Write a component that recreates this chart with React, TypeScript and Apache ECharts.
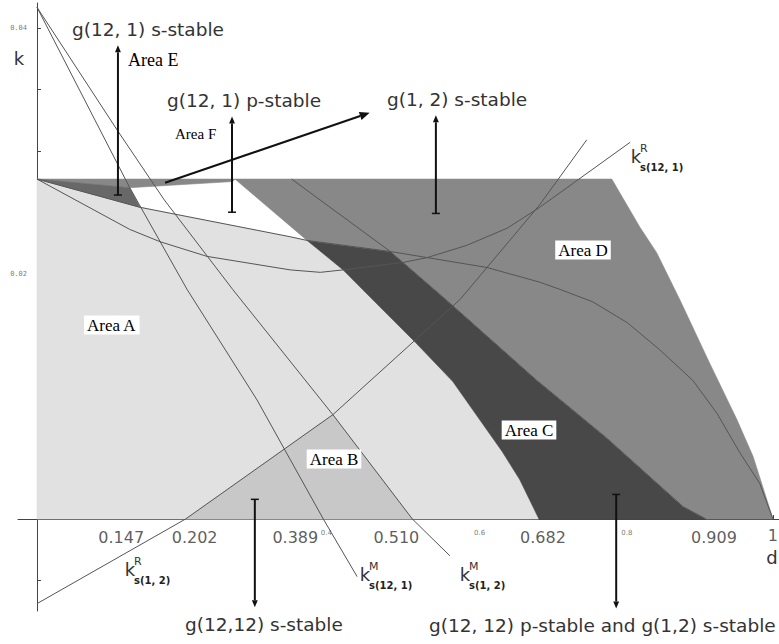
import React, { useEffect, useRef } from "react";
import * as echarts from "echarts";

// ---------- data (d on x, k on y) ----------
const topK = 0.0277;

// g(12,12) p-stable boundary
const curvePD = [0, 0.14, 0.344, 0.367, 0.48, 0.611, 0.683, 0.711, 0.755, 0.802, 0.846, 0.891, 0.924, 0.955, 0.982, 1.0];
const curvePK = [0.0277, 0.0254, 0.023, 0.0227, 0.0218, 0.0205, 0.0193, 0.0187, 0.0177, 0.016, 0.0138, 0.0113, 0.0086, 0.0054, 0.0029, 0];

// boundary between Area A and Area C
const curveQD = [0.269, 0.367, 0.416, 0.459, 0.514, 0.565, 0.592, 0.632, 0.656, 0.682];
const curveQK = [0.0277, 0.0227, 0.0203, 0.0177, 0.0144, 0.0112, 0.0089, 0.0055, 0.0032, 0];

// boundary between Area C and Area D
const curveLD = [0.346, 0.48, 0.557, 0.679, 0.774, 0.878, 0.909];
const curveLK = [0.0277, 0.0218, 0.0178, 0.0113, 0.0066, 0.001, 0];

// lower edge of the strip under the top line
const stripD = [0, 0.126, 0.266, 0.269];
const stripK = [0.0277, 0.027, 0.0275, 0.0277];

// right edge of Area D
const edgeD = [0.781, 0.819, 0.842, 0.874, 0.914, 0.951, 0.973, 1.0];
const edgeK = [0.0277, 0.0238, 0.0217, 0.0178, 0.0127, 0.0081, 0.0051, 0];

// k^M s(12,1)
const kM121D = [0, 0.126, 0.204, 0.299, 0.389, 0.435];
const kM121K = [0.0417, 0.027, 0.0187, 0.0097, 0, -0.0047];
// k^M s(1,2)
const kM12D = [0, 0.11, 0.173, 0.266, 0.402, 0.51, 0.561];
const kM12K = [0.0417, 0.0316, 0.026, 0.0187, 0.0085, 0, -0.003];
// k^R s(1,2)
const kR12D = [0, 0.202, 0.402, 0.575, 0.683, 0.747];
const kR12K = [-0.0069, 0, 0.0085, 0.0179, 0.0256, 0.0309];
// k^R s(12,1)
const kR121D = [0, 0.126, 0.167, 0.231, 0.344, 0.385, 0.416, 0.497, 0.53, 0.584, 0.639, 0.683, 0.806];
const kR121K = [0.0277, 0.0236, 0.0226, 0.0214, 0.0203, 0.0201, 0.0203, 0.0209, 0.0213, 0.0223, 0.0237, 0.0254, 0.0307];

// axis ticks and labels
const xTickValues = [0.05, 0.1, 0.15, 0.2, 0.25, 0.3, 0.35, 0.4, 0.45, 0.5, 0.55, 0.6, 0.65, 0.7, 0.75, 0.8, 0.85, 0.9, 0.95, 1.0];
const xSmallLabelValues = [0.4, 0.6, 0.8];
const yTickValues = [-0.005, 0, 0.005, 0.01, 0.015, 0.02, 0.025, 0.03, 0.035, 0.04];
const yLabelValues = [0.02, 0.04];
const markedD = [0.147, 0.202, 0.389, 0.51, 0.682, 0.909, 1];
const markedDLabels = ["0.147", "0.202", "0.389", "0.510", "0.682", "0.909", "1"];

// arrows (data coordinates)
const arrowFromD = [0.11, 0.265, 0.174, 0.542, 0.296, 0.787];
const arrowFromK = [0.0264, 0.025, 0.0274, 0.0249, 0.0016, 0.002];
const arrowToD = [0.11, 0.265, 0.452, 0.542, 0.296, 0.787];
const arrowToK = [0.0386, 0.0328, 0.0331, 0.0329, -0.0072, -0.0073];

// ---------- layout / style ----------
const markedLabelDx = [-24, 9, -28, -16, 4, 8, 0];
const markedLabelDy = [19, 19, 19, 19, 19, 19, 17];
const smallLabelDx = [-5, 1, 1];
const arrowHead = [7, 7, 10, 7, 7, 7];
const arrowCap = [true, true, false, true, true, true];

const zip = (d: number[], k: number[]) => d.map((v, i) => [v, k[i]]);
const P = zip(curvePD, curvePK);
const Q = zip(curveQD, curveQK);
const L = zip(curveLD, curveLK);
const S = zip(stripD, stripK);
const E = zip(edgeD, edgeK);
const R12 = zip(kR12D, kR12K);
const M12 = zip(kM12D, kM12K);

const regions = [
  { color: "#e1e1e1", pts: [...P.slice(0, 4), ...Q.slice(2), [0, 0]] },
  { color: "#c8c8c8", pts: [R12[1], R12[2], M12[5]] },
  { color: "#484848", pts: [P[3], P[4], ...L.slice(2), ...Q.slice(1).reverse()] },
  {
    color: "#888888",
    pts: [[0, topK], ...E, ...L.slice(1).reverse(), P[3], ...S.slice().reverse()],
  },
  { color: "#686868", pts: [S[0], S[1], P[1], P[0]] },
];

const curves = [
  zip(curvePD, curvePK),
  zip(curveLD, curveLK),
  zip(kR121D, kR121K),
  zip(kR12D, kR12K),
  zip(kM121D, kM121K),
  zip(kM12D, kM12K),
];

const SANS = '"DejaVu Sans", Verdana, sans-serif';
const SERIF = '"Liberation Serif", "Times New Roman", serif';
const BIG = `18.5px ${SANS}`;

function txt(text: string, x: number, y: number, font: string, opts: any = {}) {
  return {
    type: "text",
    x,
    y,
    z: 100,
    silent: true,
    style: {
      text,
      font,
      fill: opts.fill || "#333",
      align: opts.align || "left",
      verticalAlign: "middle",
      backgroundColor: opts.bg,
      padding: opts.bg ? [1, 3] : undefined,
    },
  };
}

function kLabel(x: number, y: number, sup: string, sub: string) {
  return [
    txt("k", x, y, `18px ${SANS}`, { align: "center" }),
    txt(sup, x + 4, y - 8, `11px ${SANS}`),
    txt(sub, x + 4, y + 11, `bold 10px ${SANS}`, { fill: "#222" }),
  ];
}

export default function App() {
  const ref = useRef<HTMLDivElement>(null);
  useEffect(() => {
    if (!ref.current) return;
    const chart = echarts.init(ref.current, undefined, { renderer: "svg" });
    const axisColor = "#444";
    const option: any = {
      animation: false,
      backgroundColor: "#ffffff",
      grid: { left: 18, right: 0, top: 3, bottom: 33, containLabel: false, outerBoundsMode: "none" },
      xAxis: {
        type: "value",
        min: -0.0258,
        max: 1.0082,
        axisLine: { show: true, onZero: true, lineStyle: { color: axisColor, width: 1 } },
        axisTick: { show: true, inside: true, length: 4, customValues: xTickValues, lineStyle: { color: axisColor } },
        axisLabel: { show: false },
        splitLine: { show: false },
      },
      yAxis: {
        type: "value",
        min: -0.0075,
        max: 0.04205,
        axisLine: { show: true, onZero: true, lineStyle: { color: axisColor, width: 1 } },
        axisTick: { show: true, inside: true, length: 4, customValues: yTickValues, lineStyle: { color: axisColor } },
        axisLabel: { show: false },
        splitLine: { show: false },
      },
      series: [
        {
          type: "custom",
          coordinateSystem: "cartesian2d",
          silent: true,
          clip: false,
          z: 1,
          data: regions.map((_, i) => [i, 0]),
          renderItem: (params: any, api: any) => {
            const r = regions[params.dataIndex];
            return {
              type: "polygon",
              shape: { points: r.pts.map((p: number[]) => api.coord(p)) },
              style: { fill: r.color, stroke: r.color, lineWidth: 0.6 },
            };
          },
        },
        ...curves.map((c) => ({
          type: "line",
          data: c,
          symbol: "none",
          showSymbol: false,
          silent: true,
          clip: false,
          z: 3,
          lineStyle: { color: "#555", width: 1 },
        })),
        {
          type: "custom",
          coordinateSystem: "cartesian2d",
          silent: true,
          clip: false,
          z: 5,
          data: arrowFromD.map((_, i) => [i, 0]),
          renderItem: (params: any, api: any) => {
            const i = params.dataIndex;
            const p1 = api.coord([arrowFromD[i], arrowFromK[i]]);
            const p2 = api.coord([arrowToD[i], arrowToK[i]]);
            const dx = p2[0] - p1[0];
            const dy = p2[1] - p1[1];
            const len = Math.hypot(dx, dy);
            const ux = dx / len;
            const uy = dy / len;
            const hl = arrowHead[i];
            const hw = hl * 0.42;
            const bx = p2[0] - ux * hl;
            const by = p2[1] - uy * hl;
            const children: any[] = [
              { type: "line", shape: { x1: p1[0], y1: p1[1], x2: bx, y2: by }, style: { stroke: "#111", lineWidth: 2 } },
              {
                type: "polygon",
                shape: { points: [p2, [bx - uy * hw, by + ux * hw], [bx + uy * hw, by - ux * hw]] },
                style: { fill: "#111" },
              },
            ];
            if (arrowCap[i]) {
              children.push({
                type: "line",
                shape: { x1: p1[0] - uy * 4, y1: p1[1] + ux * 4, x2: p1[0] + uy * 4, y2: p1[1] - ux * 4 },
                style: { stroke: "#111", lineWidth: 1.5 },
              });
            }
            return { type: "group", children };
          },
        },
        {
          type: "scatter",
          symbolSize: 0,
          silent: true,
          clip: false,
          z: 6,
          data: markedD.map((v, i) => ({
            value: [v, 0],
            name: markedDLabels[i],
            label: { offset: [markedLabelDx[i], markedLabelDy[i]] },
          })),
          label: {
            show: true,
            position: "inside",
            formatter: "{b}",
            fontSize: 16,
            fontFamily: SANS,
            color: "#333",
          },
        },
        {
          type: "scatter",
          symbolSize: 0,
          silent: true,
          clip: false,
          z: 6,
          data: xSmallLabelValues.map((v, i) => ({
            value: [v, 0],
            name: String(v),
            label: { offset: [smallLabelDx[i], 14] },
          })),
          label: {
            show: true,
            position: "inside",
            formatter: "{b}",
            fontSize: 7,
            fontFamily: SANS,
            color: "#555",
          },
        },
        {
          type: "scatter",
          symbolSize: 0,
          silent: true,
          clip: false,
          z: 6,
          data: yLabelValues.map((v) => ({ value: [0, v], name: v.toFixed(2) })),
          label: {
            show: true,
            position: "left",
            distance: 10,
            formatter: "{b}",
            fontSize: 7,
            fontFamily: '"DejaVu Sans Mono", monospace',
            color: "#555",
          },
        },
      ],
      graphic: {
        elements: [
          txt("g(12, 1) s-stable", 72, 29, BIG),
          txt("g(12, 1) p-stable", 167, 100, BIG),
          txt("g(1, 2) s-stable", 387, 99, BIG),
          txt("g(12,12) s-stable", 185, 624, BIG),
          txt("g(12, 12) p-stable and g(1,2) s-stable", 429, 625, BIG),
          txt("k", 19, 58, `18px ${SANS}`, { align: "center" }),
          txt("d", 772, 557, `18px ${SANS}`, { align: "center" }),
          txt("Area E", 128, 60, `18px ${SERIF}`, { fill: "#000" }),
          txt("Area F", 175, 134, `15px ${SERIF}`, { fill: "#000" }),
          txt("Area A", 84, 325, `17px ${SERIF}`, { fill: "#000", bg: "#fff" }),
          txt("Area B", 334, 459, `17px ${SERIF}`, { fill: "#000", bg: "#fff", align: "center" }),
          txt("Area C", 529, 430, `17px ${SERIF}`, { fill: "#000", bg: "#fff", align: "center" }),
          txt("Area D", 583, 250, `17px ${SERIF}`, { fill: "#000", bg: "#fff", align: "center" }),
          ...kLabel(130, 569, "R", "s(1, 2)"),
          ...kLabel(365, 574, "M", "s(12, 1)"),
          ...kLabel(465, 574, "M", "s(1, 2)"),
          ...kLabel(636, 156, "R", "s(12, 1)"),
        ],
      },
    };
    chart.setOption(option);
    return () => chart.dispose();
  }, []);
  return <div ref={ref} style={{ position: "absolute", left: 0, top: 0, width: 779, height: 644 }} />;
}
